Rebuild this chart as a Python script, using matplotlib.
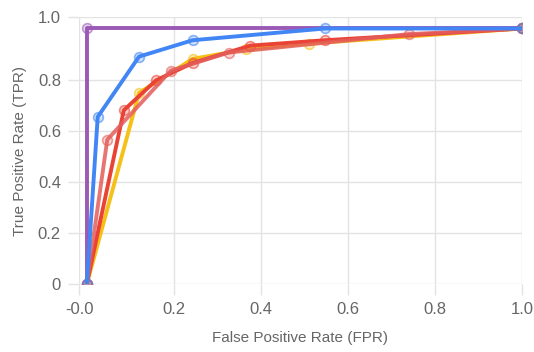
import matplotlib
matplotlib.use('Agg')
import matplotlib.pyplot as plt
from matplotlib.colors import to_rgba

plt.rcParams['font.family'] = ['Liberation Sans', 'DejaVu Sans']

# ROC curves
purple_fpr = [0.0, 0.0, 1.0]
purple_tpr = [0.0, 1.0, 1.0]

yellow_fpr = [0.0, 0.12, 0.243, 0.366, 0.51, 1.0]
yellow_tpr = [0.0, 0.748, 0.881, 0.918, 0.941, 1.0]

red_fpr = [0.0, 0.085, 0.159, 0.243, 0.376, 0.547, 1.0]
red_tpr = [0.0, 0.68, 0.797, 0.865, 0.933, 0.954, 1.0]

lightred_fpr = [0.0, 0.047, 0.193, 0.326, 0.74, 1.0]
lightred_tpr = [0.0, 0.565, 0.835, 0.906, 0.978, 1.0]

blue_fpr = [0.0, 0.025, 0.12, 0.243, 0.547, 1.0]
blue_tpr = [0.0, 0.654, 0.89, 0.954, 1.0, 1.0]

xticks = [-0.018, 0.2, 0.4, 0.6, 0.8, 1.0]
xticklabels = ['-0.0', '0.2', '0.4', '0.6', '0.8', '1.0']
yticks = [0.0, 0.2, 0.4, 0.6, 0.8, 1.045]
yticklabels = ['0', '0.2', '0.4', '0.6', '0.8', '1.0']

series = [
    (purple_fpr, purple_tpr, '#9b59b6', 1.0),
    (yellow_fpr, yellow_tpr, '#f5c018', 1.0),
    (red_fpr, red_tpr, '#ea4335', 1.0),
    (lightred_fpr, lightred_tpr, '#e35d5b', 0.85),
    (blue_fpr, blue_tpr, '#4285f4', 1.0),
]

fig = plt.figure(figsize=(5.34, 3.52), dpi=100)
ax = fig.add_axes([79 / 534, 1 - 284 / 352, (522 - 79) / 534, (284 - 17) / 352])

for i, (x, y, c, a) in enumerate(series):
    ax.plot(x, y, color=c, alpha=a, lw=2.8, solid_capstyle='round', zorder=3 + 2 * i)
    ax.plot(x, y, ls='none', marker='o', ms=7,
            mfc=to_rgba(c, 0.25), mec=to_rgba(c, 0.6), mew=1.2, zorder=4 + 2 * i)

ax.set_xlim(xticks[0], 1.0)
ax.set_ylim(0, yticks[-1])
ax.set_xticks(xticks)
ax.set_xticklabels(xticklabels)
ax.set_yticks(yticks)
ax.set_yticklabels(yticklabels)

for s in ax.spines.values():
    s.set_visible(False)
ax.grid(True, color='#e3e3e3', lw=1.0, zorder=0)
ax.set_axisbelow(True)
ax.tick_params(length=8, color='#e3e3e3', width=1.0, labelsize=12,
               labelcolor='#666666', pad=5)

ax.set_xlabel('False Positive Rate (FPR)', fontsize=11, color='#666666', labelpad=10)
ax.set_ylabel('True Positive Rate (TPR)', fontsize=11, color='#666666', labelpad=8)

plt.savefig('out.png', dpi=100)
